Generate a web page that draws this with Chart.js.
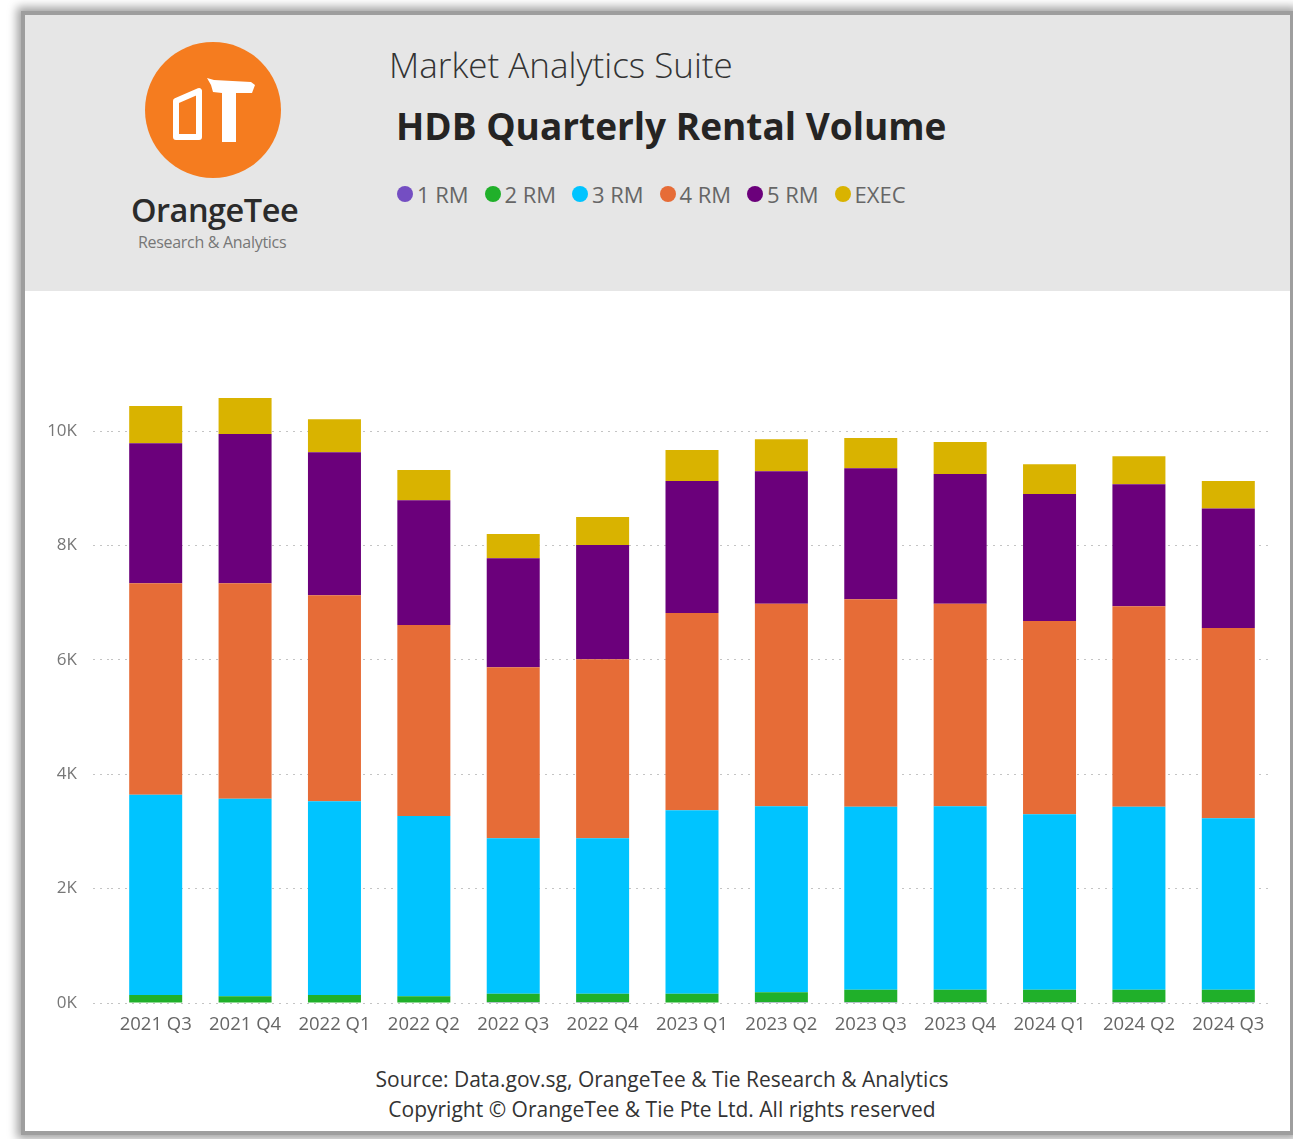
<!DOCTYPE html>
<html>
<head>
<meta charset="utf-8">
<script src="https://cdn.jsdelivr.net/npm/chart.js@4.4.1/dist/chart.umd.min.js"></script>
<style>
  html, body { margin: 0; padding: 0; background: #fff; }
  body { width: 1293px; height: 1139px; position: relative; overflow: hidden; font-family: "Open Sans", "Noto Sans", sans-serif; }
  .card { position: absolute; left: 25px; top: 15px; width: 1265px; height: 1116px; background: #fff;
          box-shadow: 0 0 0 4px #9e9e9e, 0 0 9px 8px #a2a2a2; }
  .header { position: absolute; left: 25px; top: 15px; width: 1265px; height: 276px; background: #e6e6e6; }
  .logo { position: absolute; left: 0; top: 0; }
  .brand { position: absolute; left: 131px; top: 187px; font-size: 32.5px; font-weight: 600; color: #2b2b2b; letter-spacing: -0.5px; }
  .brand-sub { position: absolute; left: 138px; top: 231px; font-size: 16px; color: #777; letter-spacing: -0.3px; }
  .suite { position: absolute; left: 389px; top: 41px; font-size: 35px; font-weight: 300; color: #333; }
  .title { position: absolute; left: 396px; top: 100px; font-size: 37px; font-weight: 700; color: #252423; }
  #legend { position: absolute; left: 397px; top: 179px; display: flex; }
  .legend-item { display: flex; align-items: center; width: 87.5px; font-size: 22px; color: #666; white-space: nowrap; }
  .legend-dot { width: 16px; height: 16px; border-radius: 50%; margin-right: 4px; }
  #chartWrap { position: absolute; left: 25px; top: 300px; width: 1265px; height: 745px; }
  .footer { position: absolute; left: 262px; width: 800px; text-align: center; font-size: 21px; color: #333; }
</style>
</head>
<body>
<div class="card"></div>
<div class="header"></div>

<svg class="logo" width="320" height="200" viewBox="0 0 320 200">
  <circle cx="213" cy="110" r="68" fill="#f57c1f"/>
  <polygon points="176,101 199,91 199,137 176,137" fill="none" stroke="#fff" stroke-width="6" stroke-linejoin="round"/>
  <polygon points="207,78 214,80 251,82 255,85 252,93 236,93 236,142 222,142 222,93 213,92 211,85" fill="#fff"/>
</svg>
<div class="brand">OrangeTee</div>
<div class="brand-sub">Research &amp; Analytics</div>

<div class="suite">Market Analytics Suite</div>
<div class="title">HDB Quarterly Rental Volume</div>
<div id="legend"></div>

<div id="chartWrap"><canvas id="rentalChart" width="1265" height="745"></canvas></div>

<div class="footer" style="top:1065px;">Source: Data.gov.sg, OrangeTee &amp; Tie Research &amp; Analytics</div>
<div class="footer" style="top:1095px;">Copyright © OrangeTee &amp; Tie Pte Ltd. All rights reserved</div>

<script>
const quarters = ["2021 Q3", "2021 Q4", "2022 Q1", "2022 Q2", "2022 Q3", "2022 Q4",
  "2023 Q1", "2023 Q2", "2023 Q3", "2023 Q4", "2024 Q1", "2024 Q2", "2024 Q3"];

const flatTypes = ["1 RM", "2 RM", "3 RM", "4 RM", "5 RM", "EXEC"];
const flatColors = ["#744ec2", "#20b02a", "#00c4ff", "#e66c37", "#6b007b", "#d9b300"];

const oneRoom   = [10, 8, 10, 9, 11, 12, 10, 12, 14, 13, 12, 14, 13];
const twoRoom   = [130, 112, 130, 111, 149, 148, 150, 178, 216, 217, 218, 216, 217];
const threeRoom = [3500, 3450, 3390, 3150, 2720, 2720, 3210, 3250, 3200, 3210, 3070, 3200, 3000];
const fourRoom  = [3700, 3770, 3600, 3340, 2990, 3130, 3450, 3540, 3630, 3540, 3380, 3510, 3330];
const fiveRoom  = [2450, 2610, 2500, 2180, 1910, 2000, 2310, 2320, 2290, 2270, 2220, 2130, 2090];
const executive = [650, 630, 580, 530, 420, 490, 540, 560, 530, 560, 520, 490, 480];

const yTicks = [0, 2000, 4000, 6000, 8000, 10000];
const yAxisMax = 11000;

document.addEventListener("DOMContentLoaded", function () {
  const canvas = document.getElementById("rentalChart");
  const legendBox = document.getElementById("legend");
  const seriesValues = [oneRoom, twoRoom, threeRoom, fourRoom, fiveRoom, executive];

  function buildLegend() {
    flatTypes.forEach((label, i) => {
      const item = document.createElement("div");
      item.className = "legend-item";
      const dot = document.createElement("span");
      dot.className = "legend-dot";
      dot.style.background = flatColors[i];
      item.appendChild(dot);
      item.appendChild(document.createTextNode(label));
      legendBox.appendChild(item);
    });
  }

  function formatK(value) {
    return (value / 1000) + "K";
  }

  const gridColor = "#c4c4c4";

  new Chart(canvas, {
    type: "bar",
    data: {
      labels: quarters,
      datasets: flatTypes.map((label, i) => ({
        label: label,
        data: seriesValues[i],
        backgroundColor: flatColors[i],
        borderWidth: 0,
        barPercentage: 0.593,
        categoryPercentage: 1
      }))
    },
    options: {
      responsive: false,
      animation: false,
      layout: { padding: { top: 74, right: 17, left: 0, bottom: 0 } },
      plugins: {
        legend: { display: false },
        tooltip: { enabled: false }
      },
      scales: {
        x: {
          stacked: true,
          grid: { display: false },
          border: { display: false },
          ticks: {
            color: "#666",
            padding: 3,
            maxRotation: 0,
            font: { family: "'Open Sans', sans-serif", size: 18.5 }
          },
          afterFit: scale => { scale.height = 42; }
        },
        y: {
          stacked: true,
          min: 0,
          max: yAxisMax,
          border: { display: false, dash: [2, 5] },
          grid: {
            color: gridColor,
            lineWidth: 1,
            drawTicks: true,
            tickLength: 18,
            tickColor: gridColor,
            tickBorderDash: [2, 5]
          },
          ticks: {
            padding: 16,
            color: "#777",
            font: { family: "'Open Sans', sans-serif", size: 17 },
            callback: value => formatK(value)
          },
          afterBuildTicks: scale => {
            scale.ticks = yTicks.map(v => ({ value: v }));
          },
          afterFit: scale => { scale.width = 86; }
        }
      }
    }
  });

  buildLegend();
});
</script>
</body>
</html>
